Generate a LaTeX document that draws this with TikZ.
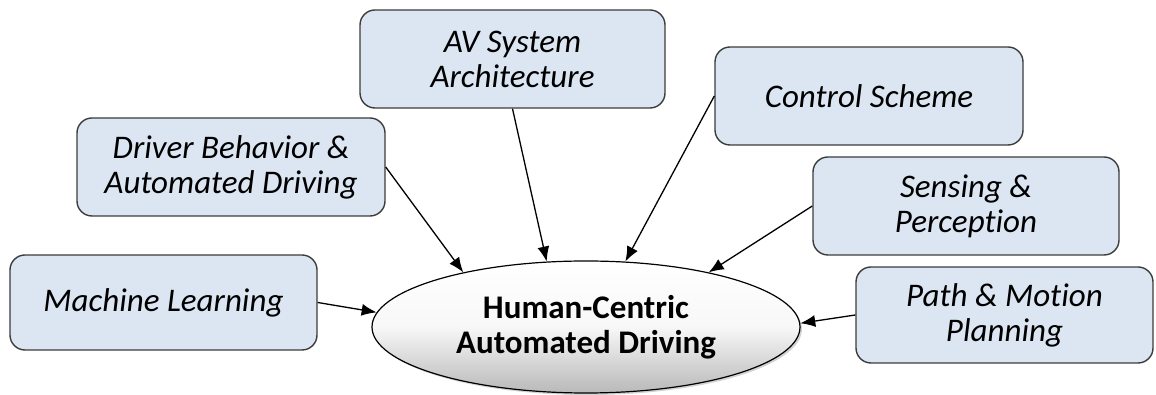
\documentclass[tikz,border=0pt]{standalone}
\usepackage{fontspec}
\setmainfont{Carlito}[Ligatures=NoCommon]
\usepackage{tikz}
\usetikzlibrary{shapes.geometric,shadows,arrows.meta}

\definecolor{boxfill}{HTML}{DCE6F2}
\definecolor{boxline}{HTML}{3C3C3C}

\tikzset{
    topic/.style={draw=boxline, line width=1.4pt, fill=boxfill,
        rounded corners=15pt, align=center, inner sep=0pt,
        font=\fontsize{33}{35}\selectfont\itshape},
    hub/.style={ellipse, draw=black, line width=1.2pt,
        minimum width=428pt, minimum height=132pt, inner sep=0pt,
        top color=white, bottom color=gray!55, middle color=gray!6,
        drop shadow={opacity=0.35, shadow xshift=2pt, shadow yshift=-2pt},
        align=center, font=\fontsize{33}{35}\selectfont\bfseries},
    feed/.style={line width=1.3pt, -{Latex[length=15pt,width=12pt]}}
}

\begin{document}
\begin{tikzpicture}[x=1pt,y=1pt]
    \useasboundingbox (0,0) rectangle (1156,395);

    \node[hub] (hc) at (586,68) {Human-Centric\\Automated Driving};

    \node[topic, minimum width=307pt, minimum height=95pt] (ml)
        at (163.5,92.5) {Machine Learning};
    \node[topic, minimum width=308pt, minimum height=98pt] (driver)
        at (231,228) {Driver Behavior \&\\Automated Driving};
    \node[topic, minimum width=305pt, minimum height=98pt] (arch)
        at (512.5,336) {AV System\\Architecture};
    \node[topic, minimum width=308pt, minimum height=98pt] (ctrl)
        at (869,299) {Control Scheme};
    \node[topic, minimum width=306pt, minimum height=98pt] (sense)
        at (966,189) {Sensing \&\\Perception};
    \node[topic, minimum width=297pt, minimum height=96pt] (path)
        at (1004.5,80) {Path \& Motion\\Planning};

    \draw [feed] (ml.east) -- (hc.176);
    \draw [feed] (driver.east) -- (hc.156);
    \draw [feed] (arch.south) -- (hc.121);
    \draw [feed] (ctrl.west) -- (hc.59);
    \draw [feed] (sense.west) -- (hc.24);
    \draw [feed] (path.west) -- (hc.1);
\end{tikzpicture}
\end{document}
